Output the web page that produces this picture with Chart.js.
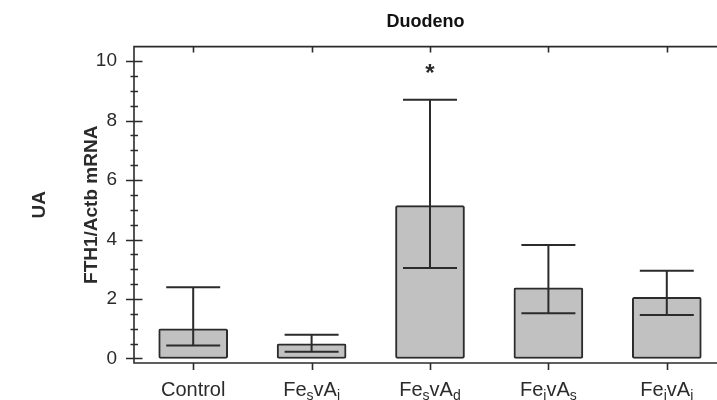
<!DOCTYPE html>
<html><head><meta charset="utf-8">
<script src="https://cdn.jsdelivr.net/npm/chart.js@4"></script>
<style>html,body{margin:0;padding:0;background:#fff}#wrap{width:717px;height:400px;position:relative}</style>
</head><body><div id="wrap"><canvas id="c"></canvas></div>
<script>
// ---- data ----
const categories = ['Control', 'Fe_{s}vA_{i}', 'Fe_{s}vA_{d}', 'Fe_{i}vA_{s}', 'Fe_{i}vA_{i}'];
const boxTop = [1.00, 0.49, 5.14, 2.38, 2.06];
const median = [0.44, 0.23, 3.04, 1.52, 1.46];
const whiskerTop = [2.40, 0.80, 8.70, 3.82, 2.95];
const significance = ['', '', '*', '', ''];
const yTicks = [0, 2, 4, 6, 8, 10];
const yMinorStep = 0.5;

const INK = '#2b2b2b';
const FONT = 'Arial, "Liberation Sans", sans-serif';

function parseLabel(s) {
  const parts = [];
  const re = /([^_]+)|_\{([^}]*)\}/g;
  let m;
  while ((m = re.exec(s))) {
    if (m[1] !== undefined) parts.push({t: m[1], sub: false});
    else parts.push({t: m[2], sub: true});
  }
  return parts;
}

const decor = {
  id: 'decor',
  afterDatasetsDraw(chart) {
    const {ctx, scales: {x, y}} = chart;
    ctx.save();
    ctx.strokeStyle = INK;
    ctx.lineWidth = 2;
    const halfCap = (x.getPixelForValue(0.228) - x.getPixelForValue(0));
    for (let i = 0; i < categories.length; i++) {
      const xc = x.getPixelForValue(i);
      const ym = y.getPixelForValue(median[i]);
      const yw = y.getPixelForValue(whiskerTop[i]);
      ctx.beginPath();
      ctx.moveTo(xc - halfCap, ym); ctx.lineTo(xc + halfCap, ym);
      ctx.moveTo(xc, ym); ctx.lineTo(xc, yw);
      ctx.moveTo(xc - halfCap, yw); ctx.lineTo(xc + halfCap, yw);
      ctx.stroke();
      if (significance[i]) {
        ctx.fillStyle = INK;
        ctx.font = 'bold 24px ' + FONT;
        ctx.textAlign = 'center';
        ctx.textBaseline = 'middle';
        ctx.fillText(significance[i], xc, yw - 25);
      }
    }
    ctx.restore();
  },
  afterDraw(chart) {
    const {ctx, chartArea: a, scales: {x, y}} = chart;
    ctx.save();
    ctx.strokeStyle = INK;
    ctx.lineWidth = 1.6;
    // frame
    ctx.beginPath();
    ctx.moveTo(a.right, a.top); ctx.lineTo(a.left, a.top);
    ctx.lineTo(a.left, a.bottom); ctx.lineTo(a.right, a.bottom);
    ctx.stroke();
    // y ticks crossing the axis
    ctx.beginPath();
    for (let v = yTicks[0]; v <= yTicks[yTicks.length - 1] + 1e-9; v += yMinorStep) {
      const py = Math.round(y.getPixelForValue(v)) + 0.5;
      const major = yTicks.some(t => Math.abs(t - v) < 1e-9);
      const l = major ? 8 : 3.5, r = major ? 8.5 : 4;
      ctx.moveTo(a.left - l, py); ctx.lineTo(a.left + r, py);
    }
    ctx.stroke();
    // x ticks bottom and top
    ctx.beginPath();
    for (let i = 0; i < categories.length; i++) {
      const px = Math.round(x.getPixelForValue(i)) + 0.5;
      ctx.moveTo(px, a.bottom); ctx.lineTo(px, a.bottom + 7);
      ctx.moveTo(px, a.top); ctx.lineTo(px, a.top + 6);
    }
    ctx.stroke();
    // x labels with subscripts
    ctx.fillStyle = INK;
    ctx.textBaseline = 'alphabetic';
    ctx.textAlign = 'left';
    const mainF = '20px ' + FONT, subF = '14px ' + FONT;
    for (let i = 0; i < categories.length; i++) {
      const parts = parseLabel(categories[i]);
      let w = 0;
      parts.forEach(p => { ctx.font = p.sub ? subF : mainF; w += ctx.measureText(p.t).width; });
      let px = x.getPixelForValue(i) - w / 2;
      const base = 396;
      parts.forEach(p => {
        ctx.font = p.sub ? subF : mainF;
        ctx.fillText(p.t, px, p.sub ? base + 4 : base);
        px += ctx.measureText(p.t).width;
      });
    }
    // outer axis label
    ctx.save();
    ctx.translate(40, (a.top + a.bottom) / 2);
    ctx.rotate(-Math.PI / 2);
    ctx.font = 'bold 19px ' + FONT;
    ctx.textAlign = 'center';
    ctx.textBaseline = 'middle';
    ctx.fillText('UA', 0, 0);
    ctx.restore();
    ctx.restore();
  }
};

new Chart(document.getElementById('c'), {
  type: 'bar',
  data: {
    datasets: [{
      data: boxTop.map((v, i) => ({x: i, y: v})),
      backgroundColor: '#c1c1c1',
      borderColor: INK,
      borderWidth: 2,
      borderSkipped: false,
      borderRadius: 2,
      barThickness: 69
    }]
  },
  options: {
    responsive: true,
    maintainAspectRatio: false,
    animation: false,
    layout: {padding: {left: 0, right: 0, top: 0, bottom: 37}},
    plugins: {
      legend: {display: false},
      tooltip: {enabled: false},
      title: {
        display: true,
        text: 'Duodeno',
        fullSize: false,
        color: '#111',
        font: {family: FONT, size: 18, weight: 'bold'},
        padding: {top: 11, bottom: 14}
      }
    },
    scales: {
      x: {
        type: 'linear',
        display: false,
        offset: false,
        min: -0.5,
        max: 4.424
      },
      y: {
        min: -0.152,
        max: 10.49,
        afterBuildTicks: s => { s.ticks = yTicks.map(v => ({value: v})); },
        afterFit: s => { s.width = 134; },
        border: {display: false},
        grid: {display: false, drawTicks: false},
        ticks: {
          color: INK,
          padding: 17,
          font: {family: FONT, size: 19}
        },
        title: {
          display: true,
          text: 'FTH1/Actb mRNA',
          color: INK,
          font: {family: FONT, size: 19, weight: 'bold'},
          padding: {top: 80, bottom: 0}
        }
      }
    }
  },
  plugins: [decor]
});
</script>
</body></html>
